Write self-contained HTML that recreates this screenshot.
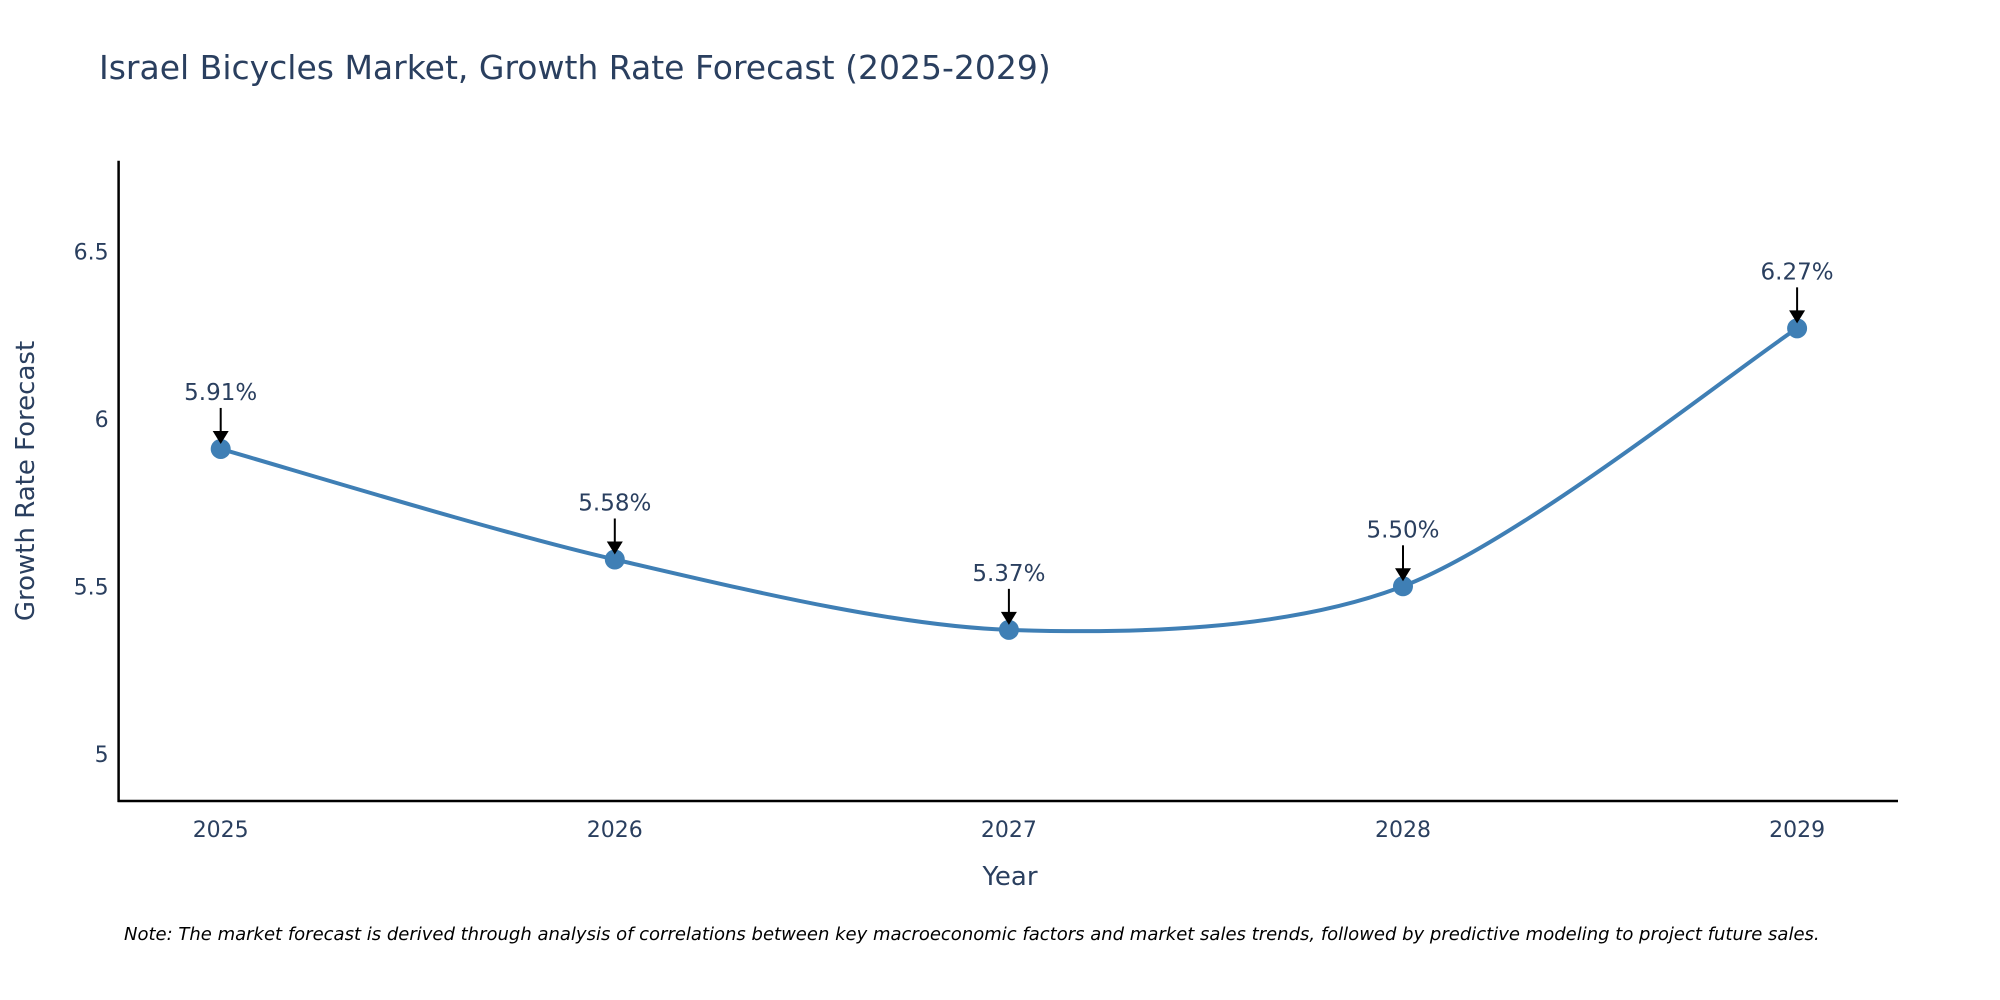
<!DOCTYPE html>
<html><head><meta charset="utf-8"><style>
body{margin:0;background:#fff;}
svg{display:block;font-family:"DejaVu Sans","Liberation Sans",sans-serif;}
</style></head><body>
<svg id="chart" width="2000" height="1000" viewBox="0 0 2000 1000">
<text x="99" y="79" font-size="33" fill="#2a3f5f">Israel Bicycles Market, Growth Rate Forecast (2025-2029)</text>
<g id="axes"></g>
<g id="series"></g>
<text x="1010" y="885" font-size="26" fill="#2a3f5f" text-anchor="middle">Year</text>
<text transform="translate(34,481) rotate(-90)" font-size="26" fill="#2a3f5f" text-anchor="middle">Growth Rate Forecast</text>
<text x="124" y="940" font-size="18" font-style="italic" fill="#000">Note: The market forecast is derived through analysis of correlations between key macroeconomic factors and market sales trends, followed by predictive modeling to project future sales.</text>
</svg>
<script>
const years=[2025,2026,2027,2028,2029];
const values=[5.91,5.58,5.37,5.50,6.27];
const labels=["5.91%","5.58%","5.37%","5.50%","6.27%"];
const yTicks=[5,5.5,6,6.5];
const yTickLabels=["5","5.5","6","6.5"];
const NS="http://www.w3.org/2000/svg";
const L=118.6,R=1898,T=160.7,B=801;
const x=v=>220.7+(v-2025)*394.1;
const y=v=>753.8-(v-5)*335;
function mk(tag,attrs,parent){const e=document.createElementNS(NS,tag);for(const k in attrs)e.setAttribute(k,attrs[k]);parent.appendChild(e);return e;}
const ax=document.getElementById('axes'),se=document.getElementById('series');
let e=mk('line',{x1:L,y1:T,x2:L,y2:B+1,stroke:'#000','stroke-width':2.5},ax);


e=mk('line',{x1:L-1,y1:B,x2:R,y2:B,stroke:'#000','stroke-width':2.5},ax);


yTicks.forEach((t,i)=>{const tx=mk('text',{x:L-6-4,y:y(t)+8,'font-size':22,fill:'#2a3f5f','text-anchor':'end'},ax);tx.textContent=yTickLabels[i];

});
years.forEach(yr=>{const tx=mk('text',{x:x(yr),y:837,'font-size':22,fill:'#2a3f5f','text-anchor':'middle'},ax);tx.textContent=String(yr);

});
const pts=years.map((yr,i)=>[x(yr),y(values[i])]);
let d=`M${pts[0][0]},${pts[0][1]}`;const s=0.3;
for(let i=0;i<pts.length-1;i++){const p0=pts[Math.max(0,i-1)],p1=pts[i],p2=pts[i+1],p3=pts[Math.min(pts.length-1,i+2)];
const c1=[p1[0]+(p2[0]-p0[0])*s/2,p1[1]+(p2[1]-p0[1])*s/2],c2=[p2[0]-(p3[0]-p1[0])*s/2,p2[1]-(p3[1]-p1[1])*s/2];
d+=` C${c1[0]},${c1[1]} ${c2[0]},${c2[1]} ${p2[0]},${p2[1]}`;}
e=mk('path',{d:d,fill:'none',stroke:'#3f7fb5','stroke-width':4},se);


pts.forEach((p,i)=>{const c=mk('circle',{cx:p[0],cy:p[1],r:10,fill:'#3f7fb5'},se);


const ln=mk('line',{x1:p[0],y1:p[1]-41,x2:p[0],y2:p[1]-16,stroke:'#000','stroke-width':2},se);


const hd=mk('polygon',{points:`${p[0]-8},${p[1]-18} ${p[0]+8},${p[1]-18} ${p[0]},${p[1]-5}`,fill:'#000'},se);


const tx=mk('text',{x:p[0],y:p[1]-49,'font-size':23,fill:'#2a3f5f','text-anchor':'middle'},se);tx.textContent=labels[i];

});
</script>
</body></html>
